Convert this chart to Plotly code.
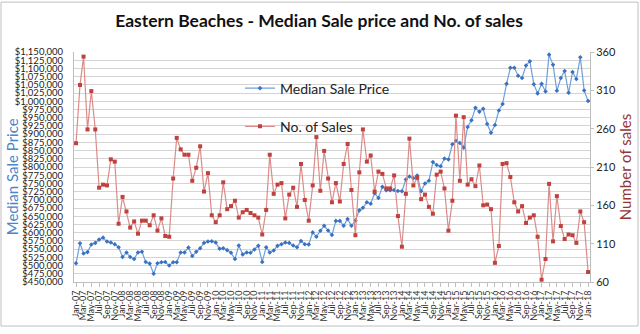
import pandas as pd
import plotly.graph_objects as go

start_month = "2007-01-01"
n_months = 133

median_price = [
    507000, 568000, 537000, 541000, 564000, 569000, 579000, 585000, 573000, 570000,
    565000, 556000, 526000, 540000, 526000, 520000, 540000, 542000, 511000, 506000,
    475000, 507000, 510000, 511000, 500000, 510000, 510000, 540000, 540000, 555000,
    529000, 542000, 553000, 569000, 573000, 574000, 570000, 551000, 553000, 547000,
    539000, 520000, 561000, 534000, 540000, 539000, 549000, 560000, 511000, 556000,
    540000, 546000, 560000, 565000, 570000, 569000, 561000, 556000, 575000, 565000,
    564000, 601000, 588000, 606000, 621000, 607000, 593000, 636000, 636000, 621000,
    642000, 621000, 637000, 668000, 676000, 693000, 688000, 720000, 706000, 740000,
    729000, 729000, 730000, 727000, 726000, 762000, 771000, 766000, 774000, 726000,
    750000, 758000, 815000, 806000, 802000, 826000, 823000, 869000, 880000, 873000,
    859000, 922000, 942000, 980000, 968000, 977000, 931000, 904000, 928000, 972000,
    992000, 1053000, 1102000, 1102000, 1078000, 1071000, 1109000, 1122000, 1052000, 1024000,
    1053000, 1030000, 1142000, 1111000, 1032000, 1071000, 1092000, 1026000, 1089000, 1068000,
    1134000, 1033000, 1001000,
]

num_sales = [
    241, 317, 354, 259, 309, 259, 183, 187, 186, 220,
    217, 136, 171, 152, 131, 139, 123, 140, 140, 134,
    147, 127, 143, 120, 119, 195, 248, 233, 226, 226,
    192, 209, 237, 178, 202, 147, 138, 147, 190, 155,
    159, 166, 144, 151, 154, 150, 147, 144, 122, 154,
    226, 175, 187, 189, 143, 174, 183, 158, 214, 167,
    140, 186, 249, 179, 231, 195, 164, 189, 165, 214,
    240, 180, 121, 203, 259, 217, 225, 178, 204, 201,
    182, 182, 199, 146, 106, 175, 247, 186, 196, 168,
    174, 158, 149, 200, 204, 182, 127, 166, 277, 192,
    275, 187, 194, 185, 212, 160, 161, 155, 85, 107,
    214, 215, 197, 164, 152, 159, 137, 144, 147, 119,
    63, 90, 188, 113, 172, 133, 116, 122, 121, 111,
    152, 138, 73,
]

months = pd.date_range(start_month, periods=n_months, freq="MS")

FONT = "Lato, 'Open Sans', sans-serif"
W, H = 640, 334
ML, MR, MT, MB = 74, 50, 52, 47
PW, PH = W - ML - MR, H - MT - MB

fig = go.Figure()
fig.add_trace(go.Scatter(
    x=months, y=median_price, name="Median Sale Price", mode="lines+markers",
    line=dict(color="#6E9FDC", width=1.2),
    marker=dict(color="#3A72C0", size=3.5, symbol="diamond"),
    legendgroup="a",
))
fig.add_trace(go.Scatter(
    x=months, y=num_sales, name="No. of Sales", mode="lines+markers", yaxis="y2",
    line=dict(color="#DB8C8A", width=1.2),
    marker=dict(color="#C0413D", size=4, symbol="square"),
    legendgroup="b",
))

def px_x(px):
    return (px - ML) / PW

def px_y(py):
    return (H - MB - py) / PH

fig.update_layout(
    width=W, height=H,
    margin=dict(l=ML, r=MR, t=MT, b=MB),
    paper_bgcolor="white", plot_bgcolor="white",
    font=dict(family=FONT, color="#222222"),
    title=dict(text="<b>Eastern Beaches - Median Sale price and No. of sales</b>",
               x=319 / W, xref="container", xanchor="center", y=1 - 21 / H, yanchor="middle",
               font=dict(size=17.5, color="#111111")),
    showlegend=True,
    legend=dict(x=px_x(240), y=px_y(73), xanchor="left", yanchor="top",
                bgcolor="rgba(0,0,0,0)", font=dict(size=14, color="#222222"),
                itemwidth=30, tracegroupgap=17),
    xaxis=dict(
        type="date", range=["2006-12-16", "2018-01-16"],
        tickformat="%b-%y", dtick="M2", tick0="2007-01-01", tickangle=-90,
        tickfont=dict(size=9, color="#333333"),
        showgrid=False, showline=True, linecolor="#BFBFBF", linewidth=1,
        ticks="outside", ticklen=4, tickcolor="#BFBFBF",
    ),
    yaxis=dict(
        range=[450000, 1150000], dtick=25000, tick0=450000, tickformat="$,.0f",
        tickfont=dict(size=9.5, color="#222222"), ticklabelstandoff=8,
        showgrid=True, gridcolor="#D4D4D4", gridwidth=1,
        showline=True, linecolor="#BFBFBF", zeroline=False,
    ),
    yaxis2=dict(
        range=[60, 360], dtick=50, tick0=60, overlaying="y", side="right",
        tickfont=dict(size=11, color="#222222"),
        showgrid=False, showline=True, linecolor="#BFBFBF", zeroline=False,
        ticks="outside", ticklen=3, tickcolor="#BFBFBF",
        title=dict(text="Number of sales", font=dict(size=15, color="#943634"), standoff=1),
    ),
    annotations=[dict(text="Median Sale Price", xref="paper", yref="paper",
                      x=px_x(12), y=px_y(180), textangle=-90, showarrow=False,
                      xanchor="center", yanchor="middle",
                      font=dict(size=15, color="#4A86C8", family=FONT))],
    shapes=[dict(type="rect", xref="paper", yref="paper",
                 x0=px_x(1), x1=px_x(W - 2), y0=px_y(H - 2), y1=px_y(1),
                 line=dict(color="#BFBFBF", width=1), layer="below")],
)

fig.write_html("out.html")
